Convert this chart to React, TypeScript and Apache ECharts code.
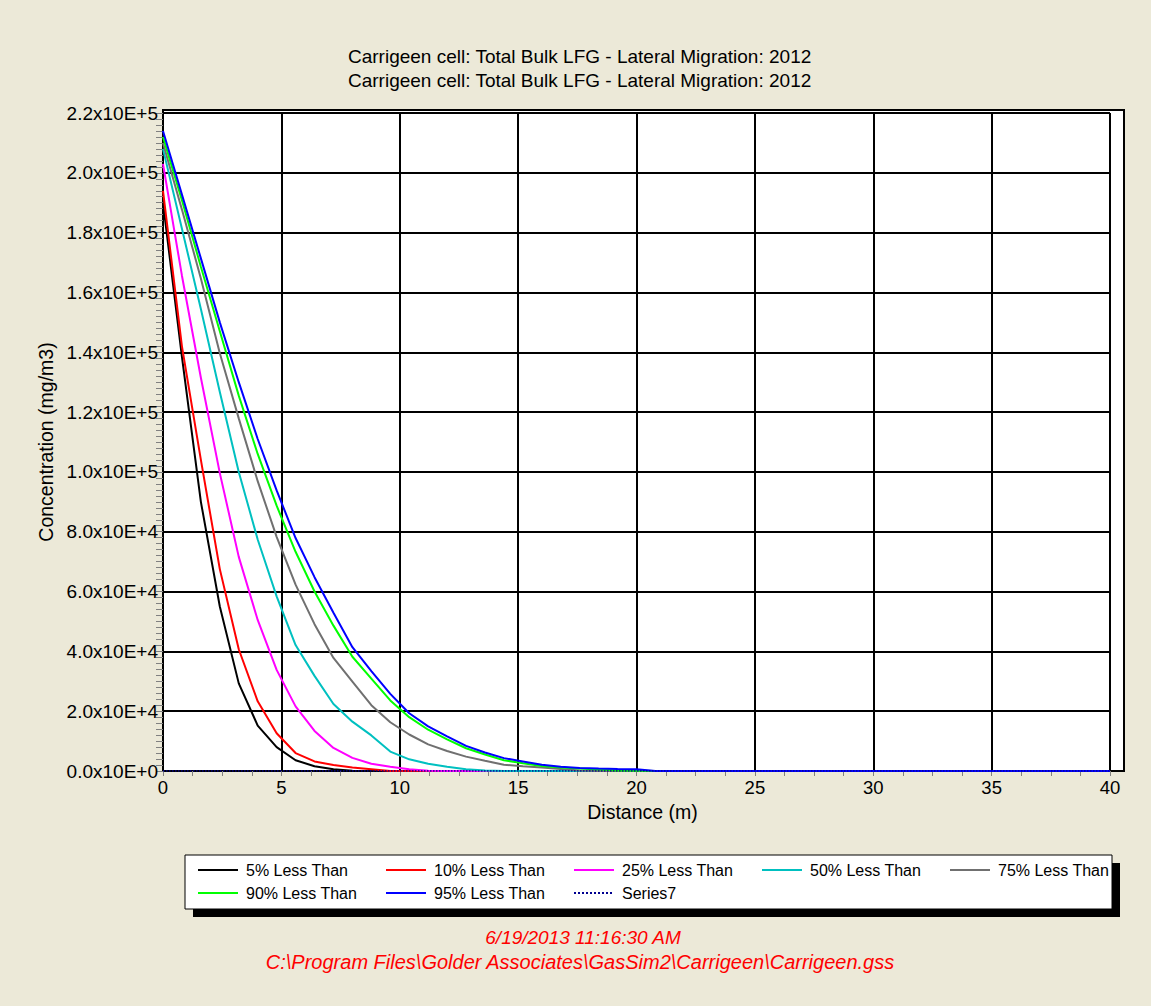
import React, { useEffect, useRef } from "react";
import * as echarts from "echarts";

const FONT = '"Liberation Sans", Arial, Helvetica, sans-serif';

const titleText = "Carrigeen cell: Total Bulk LFG - Lateral Migration: 2012";
const footerDate = "6/19/2013 11:16:30 AM";
const footerPath = "C:\\Program Files\\Golder Associates\\GasSim2\\Carrigeen\\Carrigeen.gss";
const xAxisName = "Distance (m)";
const yAxisName = "Concentration (mg/m3)";

// distances (m)
const distances = [0, 0.8, 1.6, 2.4, 3.2, 4.0, 4.8, 5.6, 6.4, 7.2, 8.0, 8.8, 9.6, 10.4, 11.2, 12.0, 12.8, 13.6, 14.4, 15.2, 16.0, 16.8, 17.6, 18.4, 19.2, 20.0, 20.8, 40];

// concentrations (mg/m3)
const p05 = [190000, 138500, 90000, 55000, 29300, 15200, 8000, 3600, 1600, 600, 100, 0, 0, 0, 0, 0, 0, 0, 0, 0, 0, 0, 0, 0, 0, 0, 0, 0];
const p10 = [194000, 142000, 104000, 67500, 40700, 23300, 12600, 6000, 3200, 2000, 1200, 600, 0, 0, 0, 0, 0, 0, 0, 0, 0, 0, 0, 0, 0, 0, 0, 0];
const p25 = [203000, 165600, 131500, 99600, 71600, 50500, 33800, 21600, 13400, 7700, 4400, 2400, 1400, 600, 100, 0, 0, 0, 0, 0, 0, 0, 0, 0, 0, 0, 0, 0];
const p50 = [208000, 181300, 154500, 126700, 100000, 77400, 58400, 42100, 31800, 22400, 16500, 11900, 6500, 3900, 2400, 1400, 600, 200, 0, 0, 0, 0, 0, 0, 0, 0, 0, 0];
const p75 = [210000, 187700, 164700, 139700, 117900, 96900, 78300, 62300, 49100, 37800, 29900, 22000, 16300, 12200, 8900, 6700, 4800, 3400, 2100, 1600, 1200, 700, 200, 0, 0, 0, 0, 0];
const p90 = [212000, 190800, 168600, 147000, 125500, 106000, 88700, 73300, 60000, 48600, 38200, 30900, 23600, 18000, 13800, 10600, 7600, 5500, 3600, 2600, 1700, 1200, 850, 500, 200, 100, 0, 0];
const p95 = [214000, 192700, 171400, 150000, 130000, 111000, 93800, 77900, 64800, 52900, 41400, 33400, 25800, 19300, 14900, 11600, 8400, 6200, 4300, 3200, 2100, 1400, 1000, 800, 650, 570, 0, 0];
const series7Distances = [0, 40];
const series7Values = [0, 0];

const seriesNames = ["5% Less Than", "10% Less Than", "25% Less Than", "50% Less Than", "75% Less Than", "90% Less Than", "95% Less Than", "Series7"];
const seriesColors = ["#000000", "#FF0000", "#FF00FF", "#00C0C0", "#707070", "#00FF00", "#0000FF", "#000090"];

const xTicks = { min: 0, max: 40, interval: 5 };
const yTicks = { min: 0, max: 220000, interval: 20000 };

function formatSci(v: number): string {
  if (v === 0) return "0.0x10E+0";
  const exp = Math.floor(Math.log10(v) + 1e-9);
  const mant = v / Math.pow(10, exp);
  return `${mant.toFixed(1)}x10E+${exp}`;
}

export default function App() {
  const ref = useRef<HTMLDivElement>(null);

  useEffect(() => {
    if (!ref.current) return;
    const chart = echarts.init(ref.current, undefined, { renderer: "svg" });

    const valueSets = [p05, p10, p25, p50, p75, p90, p95];
    const series: any[] = valueSets.map((vals, i) => ({
      name: seriesNames[i],
      type: "line",
      data: distances.map((d, j) => [d, vals[j]]),
      symbol: "none",
      showSymbol: false,
      lineStyle: { color: seriesColors[i], width: 2 },
      itemStyle: { color: seriesColors[i] },
      z: 2 + i,
    }));
    series.push({
      name: seriesNames[7],
      type: "line",
      data: series7Distances.map((d, j) => [d, series7Values[j]]),
      symbol: "none",
      showSymbol: false,
      lineStyle: { color: seriesColors[7], width: 1.5, type: "dotted" },
      itemStyle: { color: seriesColors[7] },
      z: 10,
    });

    const option: any = {
      animation: false,
      backgroundColor: "#ECE9D8",
      textStyle: { fontFamily: FONT },
      title: {
        text: titleText + "\n" + titleText,
        left: 348,
        top: 44,
        padding: 0,
        textStyle: { fontSize: 19, fontWeight: "normal", color: "#000", lineHeight: 24, fontFamily: FONT },
      },
      grid: { left: 163, top: 113, right: 41, bottom: 235, containLabel: false },
      xAxis: {
        type: "value",
        min: xTicks.min,
        max: xTicks.max,
        interval: xTicks.interval,
        name: xAxisName,
        nameLocation: "middle",
        nameGap: 30,
        nameTextStyle: { fontSize: 19.5, color: "#000", fontFamily: FONT, padding: [0, 0, 0, 12] },
        axisLine: { show: true, onZero: false, lineStyle: { color: "#000", width: 1 } },
        axisTick: { show: true, length: 5, lineStyle: { color: "#808080" } },
        minorTick: { show: true, splitNumber: 4, length: 5, lineStyle: { color: "#808080" } },
        splitLine: { show: true, lineStyle: { color: "#000", width: 2 } },
        axisLabel: { color: "#000", fontSize: 18.5, margin: 7, fontFamily: FONT },
      },
      yAxis: {
        type: "value",
        min: yTicks.min,
        max: yTicks.max,
        interval: yTicks.interval,
        name: yAxisName,
        nameLocation: "middle",
        nameGap: 100,
        nameTextStyle: { fontSize: 19.5, color: "#000", fontFamily: FONT },
        axisLine: { show: true, onZero: false, lineStyle: { color: "#000", width: 1 } },
        axisTick: { show: true, length: 7, lineStyle: { color: "#808080" } },
        minorTick: { show: true, splitNumber: 10, length: 7, lineStyle: { color: "#808080" } },
        splitLine: { show: true, lineStyle: { color: "#000", width: 2 } },
        axisLabel: { color: "#000", fontSize: 19, margin: 5, fontFamily: FONT, formatter: (v: number) => formatSci(v) },
      },
      legend: {
        data: seriesNames,
        left: 197,
        top: 862,
        width: 940,
        padding: 0,
        itemWidth: 40,
        itemHeight: 16,
        itemGap: 7,
        z: 10,
        itemStyle: { opacity: 0, borderWidth: 0 },
        textStyle: { fontSize: 16, color: "#000", width: 132, lineHeight: 16, padding: [0, 0, 0, 3], fontFamily: FONT },
      },
      graphic: [
        {
          type: "rect",
          z: -10,
          shape: { x: 163, y: 110, width: 961, height: 661 },
          style: { fill: "#FFFFFF", stroke: "#000000", lineWidth: 2 },
          silent: true,
        },
        {
          type: "rect",
          z: -10,
          shape: { x: 193, y: 863, width: 927, height: 54 },
          style: { fill: "#000000" },
          silent: true,
        },
        {
          type: "rect",
          z: -9,
          shape: { x: 185, y: 855, width: 927, height: 54 },
          style: { fill: "#FFFFFF", stroke: "#000000", lineWidth: 1 },
          silent: true,
        },
        {
          type: "text",
          x: 583,
          y: 937,
          style: {
            text: footerDate,
            fill: "#FF0000",
            font: `italic 19px ${FONT}`,
            textAlign: "center",
            textVerticalAlign: "middle",
            align: "center",
            verticalAlign: "middle",
          },
        },
        {
          type: "text",
          x: 580,
          y: 962,
          style: {
            text: footerPath,
            fill: "#FF0000",
            font: `italic 20px ${FONT}`,
            textAlign: "center",
            textVerticalAlign: "middle",
            align: "center",
            verticalAlign: "middle",
          },
        },
      ],
      series,
    };

    chart.setOption(option);
    return () => chart.dispose();
  }, []);

  return (
    <div
      ref={ref}
      style={{ position: "absolute", left: 0, top: 0, width: 1151, height: 1006 }}
    />
  );
}
